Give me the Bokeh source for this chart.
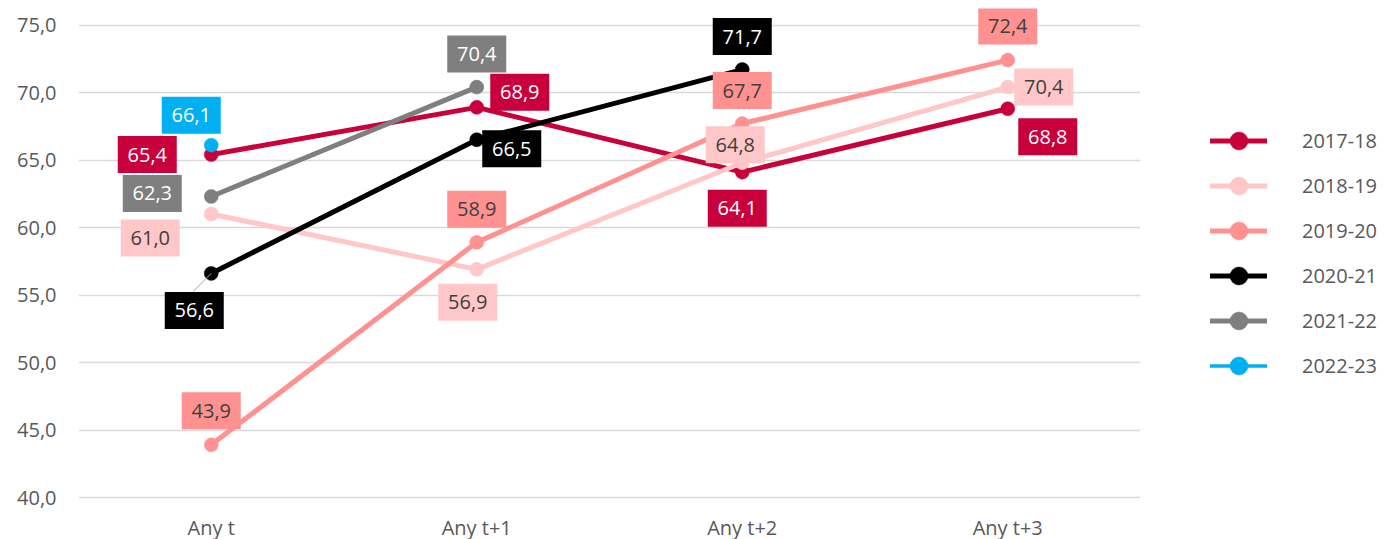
from bokeh.plotting import figure
from bokeh.models import (FactorRange, Range1d, FixedTicker, Legend, LegendItem,
                          ColumnDataSource)
from bokeh.core.properties import value
from bokeh.embed import file_html
from bokeh.resources import INLINE

# ---------------- data ----------------
categories = ["Any t", "Any t+1", "Any t+2", "Any t+3"]
series_names = ["2017-18", "2018-19", "2019-20", "2020-21", "2021-22", "2022-23"]
v_2017_18 = [65.4, 68.9, 64.1, 68.8]
v_2018_19 = [61.0, 56.9, 64.8, 70.4]
v_2019_20 = [43.9, 58.9, 67.7, 72.4]
v_2020_21 = [56.6, 66.5, 71.7]
v_2021_22 = [62.3, 70.4]
v_2022_23 = [66.1]
series_values = [v_2017_18, v_2018_19, v_2019_20, v_2020_21, v_2021_22, v_2022_23]
y_ticks = [40, 45, 50, 55, 60, 65, 70, 75]
y_tick_labels = ["40,0", "45,0", "50,0", "55,0", "60,0", "65,0", "70,0", "75,0"]

# ---------------- styles ----------------
colors = ["#C8003C", "#FFC7C7", "#FF9191", "#000000", "#7F7F7F", "#00B0F0"]
label_text_colors = ["#FFFFFF", "#404040", "#404040", "#FFFFFF", "#FFFFFF", "#FFFFFF"]
line_widths = [5, 5, 5, 5, 5, 3.5]
# label offsets in screen pixels (dx right, dy down) from each point
label_offsets = [
    [(-64, 0), (43, -15), (-5, 36), (40, 28)],
    [(-61, 24), (-9, 33), (-7, -18), (36, 0)],
    [(0, -34), (0, -33), (0, -33), (0, -34)],
    [(-17, 37), (35, 9), (0, -33)],
    [(-59, -3), (0, -33)],
    [(-20, -30)],
]
FONT = "Open Sans"
FRAME_W, FRAME_H = 1062, 490
PX_PER_UNIT = 13.5
Y_START = 40 - 1 / PX_PER_UNIT
Y_TOP = Y_START + FRAME_H / PX_PER_UNIT
BAND = FRAME_W / len(categories)

p = figure(x_range=FactorRange(factors=categories, range_padding=0),
           y_range=Range1d(Y_START, Y_TOP),
           frame_width=FRAME_W, frame_height=FRAME_H,
           min_border_left=78, min_border_right=236,
           min_border_top=8, min_border_bottom=33,
           output_backend="svg", toolbar_location=None)
p.outline_line_color = None
p.background_fill_color = "white"
p.border_fill_color = "white"

# axes
p.yaxis.ticker = FixedTicker(ticks=y_ticks)
p.yaxis.major_label_overrides = {t: l for t, l in zip(y_ticks, y_tick_labels)}
for ax in (p.xaxis[0], p.yaxis[0]):
    ax.axis_line_color = None
    ax.major_tick_line_color = None
    ax.minor_tick_line_color = None
    ax.major_tick_out = 0
    ax.major_tick_in = 0
    ax.major_label_text_font = FONT
    ax.major_label_text_font_size = "20px"
    ax.major_label_text_color = "#595959"
p.yaxis.major_label_standoff = 22
p.xaxis.major_label_standoff = 15
p.xgrid.grid_line_color = None
p.ygrid.ticker = FixedTicker(ticks=y_ticks)
p.ygrid.grid_line_color = "#D9D9D9"
p.ygrid.grid_line_width = 1.5

# series
legend_items = []
for name, vals, col, lw in zip(series_names, series_values, colors, line_widths):
    xs = categories[:len(vals)]
    src = ColumnDataSource(dict(x=xs, y=vals))
    r_line = p.line("x", "y", source=src, line_color=col, line_width=lw,
                    line_join="round", line_cap="round")
    r_pt = p.scatter("x", "y", source=src, size=14, fill_color=col, line_color=col,
                     line_width=0.5)
    legend_items.append(LegendItem(label=name, renderers=[r_line, r_pt]))

# leader line for 2020-21 first label
lead_src = ColumnDataSource(dict(
    x0=[categories[0]], y0=[v_2020_21[0]],
    x1=[(categories[0], -18 / BAND)], y1=[v_2020_21[0] - 18 / PX_PER_UNIT]))
p.segment("x0", "y0", "x1", "y1", source=lead_src, line_color="#A6A6A6", line_width=1)

# data labels
lx, ly, lt, lf, ltc = [], [], [], [], []
for vals, offs, col, tcol in zip(series_values, label_offsets, colors, label_text_colors):
    for cat, v, (dx, dy) in zip(categories, vals, offs):
        lx.append((cat, dx / BAND))
        ly.append(v - dy / PX_PER_UNIT)
        lt.append(f"{v:.1f}".replace(".", ","))
        lf.append(col)
        ltc.append(tcol)
lab_src = ColumnDataSource(dict(x=lx, y=ly, text=lt, fill=lf, tcol=ltc))
p.rect("x", "y", width=59, height=37, width_units="screen", height_units="screen",
       source=lab_src, fill_color="fill", line_color=None)
p.text("x", "y", text="text", source=lab_src, text_color="tcol",
       text_font=value(FONT), text_font_size="20px",
       text_align="center", text_baseline="middle")

legend = Legend(items=legend_items, location=(70, 110),
                glyph_width=57, glyph_height=45, label_height=45, spacing=0,
                label_standoff=35, padding=0, margin=0,
                label_text_font=FONT, label_text_font_size="20px",
                label_text_color="#595959",
                border_line_color=None, background_fill_alpha=0)
p.add_layout(legend, "right")

open("out.html", "w").write(file_html(p, INLINE))
